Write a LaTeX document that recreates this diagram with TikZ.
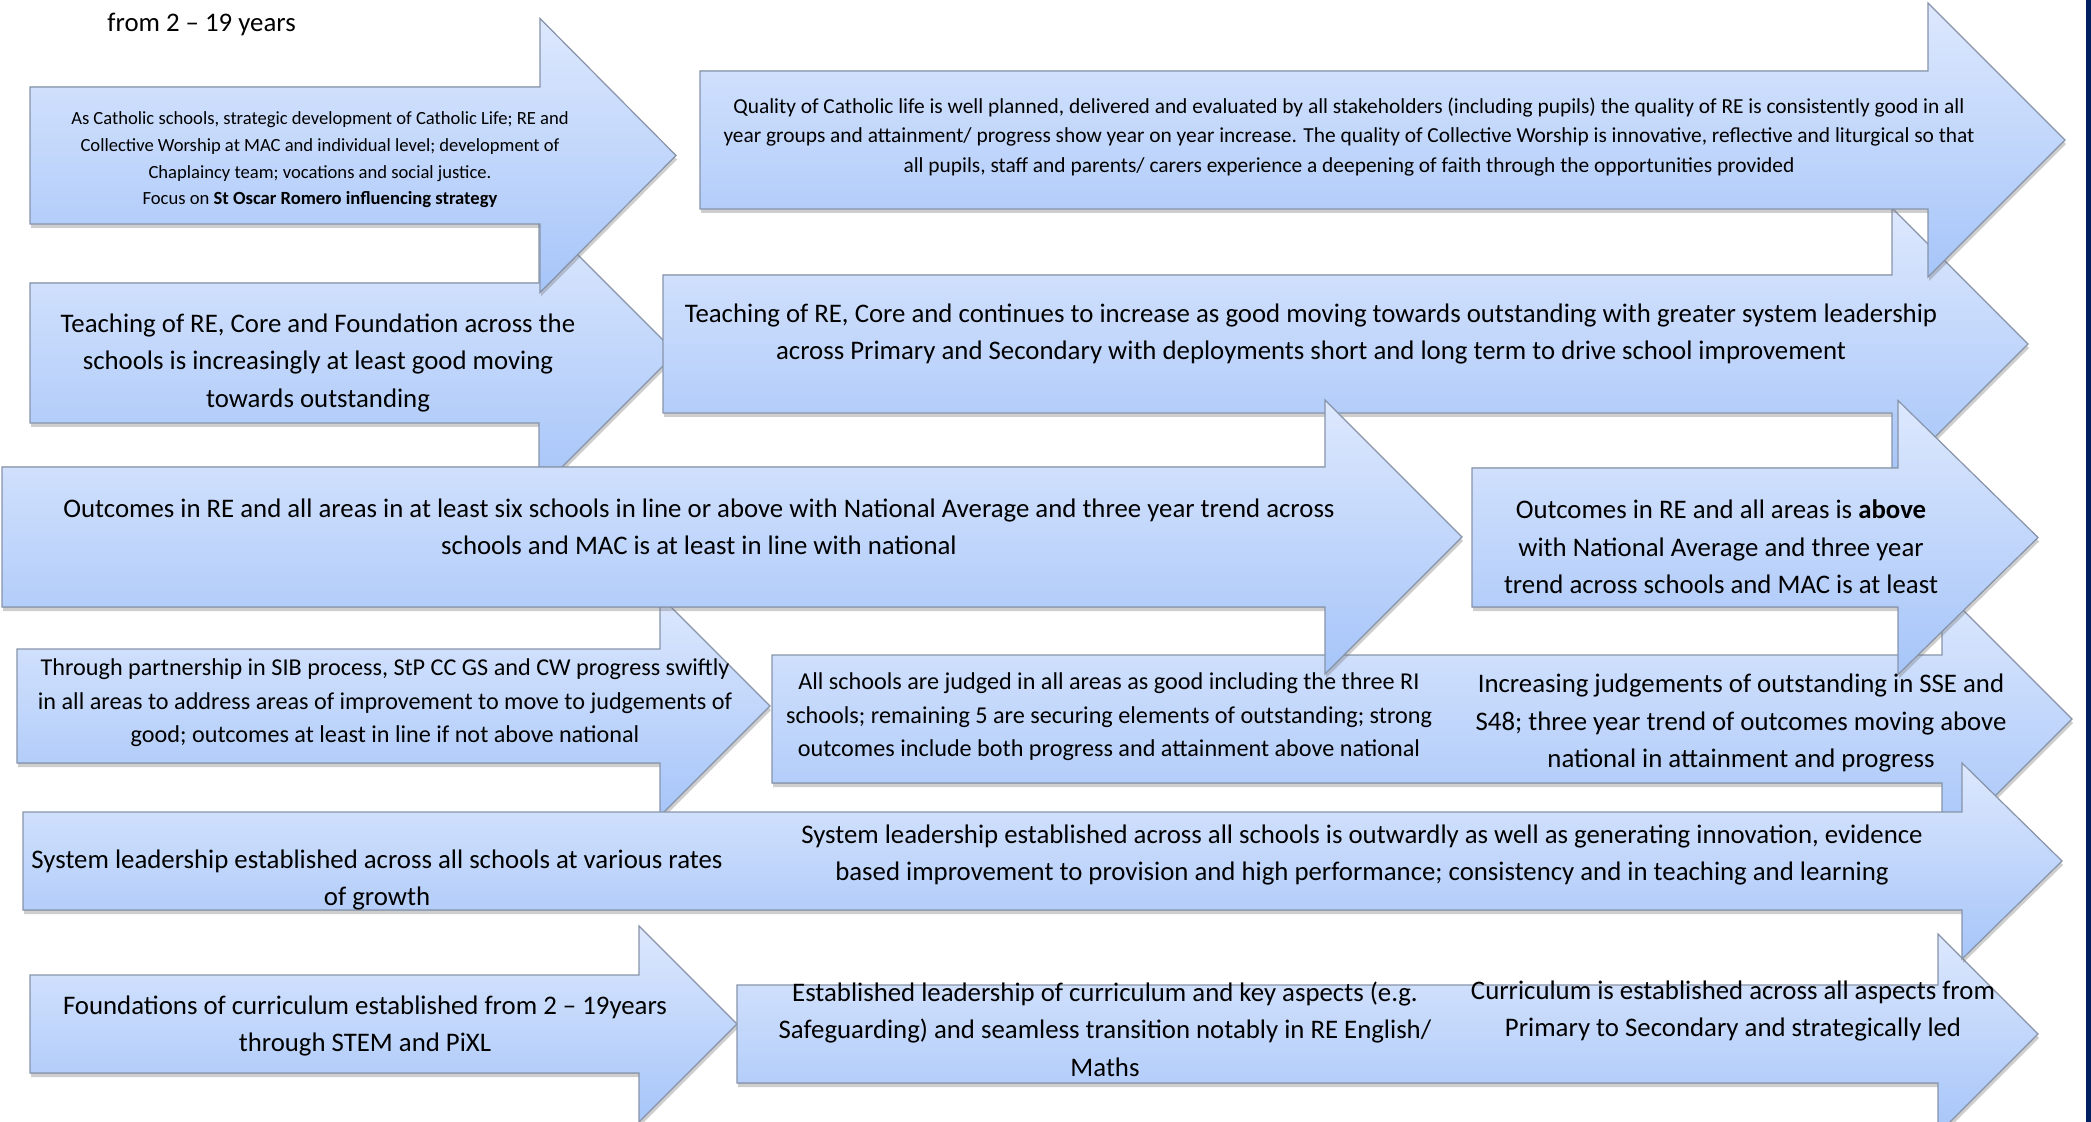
\documentclass[tikz,border=0pt]{standalone}
\usepackage{fontspec}
\setmainfont{Carlito}
\usepackage{tikz}
\usetikzlibrary{shadows}
\definecolor{arrowtop}{RGB}{221,232,253}
\definecolor{arrowbot}{RGB}{166,197,249}
\definecolor{arrowline}{RGB}{135,148,170}
\definecolor{edgenavy}{RGB}{0,32,96}

\begin{document}
\begin{tikzpicture}[x=0.5pt, y=-0.5pt,
	bigarrow/.style={top color=arrowtop, bottom color=arrowbot, draw=arrowline, line width=0.6pt,
		drop shadow={shadow xshift=0.5pt, shadow yshift=-2pt, opacity=0.35, fill=black!55}},
	txt/.style={align=center, inner sep=0pt, font=\fontsize{13.4}{18.7}\selectfont},
	midtxt/.style={align=center, inner sep=0pt, font=\fontsize{12.1}{16.7}\selectfont},
	quality/.style={align=center, inner sep=0pt, font=\fontsize{10.7}{14.7}\selectfont},
	smalltxt/.style={align=center, inner sep=0pt, font=\fontsize{9.3}{13.3}\selectfont}]
			\useasboundingbox (0,0) rectangle (2091,1122);
			% arrows, lower rows first so the heads above overlap them
			\foreach \lx/\ty/\by/\bx/\tx/\hh in {17/649/763/660/770/110, 772/655/783/1942/2072/130,
				30/283/423/539/676/137, 663/275/413/1892/2028/136,
				2/467/607/1325/1462/137, 1472/468/607/1898/2038/137,
				30/87/224/540/676/137, 700/71/209/1928/2065/137,
				30/975/1073/639/737/98, 737/985/1083/1938/2038/100,
				23/812/910/1962/2062/98}
			{
				\filldraw[bigarrow] (\lx,\ty) -- (\bx,\ty) -- (\bx,{(\ty+\by)/2-\hh})
					-- (\tx,{(\ty+\by)/2}) -- (\bx,{(\ty+\by)/2+\hh}) -- (\bx,\by) -- (\lx,\by) -- cycle;
			}
			\fill[edgenavy] (2086,0) rectangle (2091,1122);

			\node[txt, anchor=west] (years) at (107,24) {from 2 – 19 years};

			\node[smalltxt] (catholic) at (320,160) {As Catholic schools, strategic development of Catholic Life; RE and\\
				Collective Worship at MAC and individual level; development of\\
				Chaplaincy team; vocations and social justice.\\
				Focus on \textbf{St Oscar Romero influencing strategy}};
			\node[quality] (qualitylife) at (1349,137) {Quality of Catholic life is well planned, delivered and evaluated by all stakeholders (including pupils) the quality of RE is consistently good in all\\
				year groups and attainment/ progress show year on year increase. The quality of Collective Worship is innovative, reflective and liturgical so that\\
				all pupils, staff and parents/ carers experience a deepening of faith through the opportunities provided};

			\node[txt] (teachfound) at (318,363) {Teaching of RE, Core and Foundation across the\\
				schools is increasingly at least good moving\\
				towards outstanding};
			\node[txt] (teachlead) at (1311,334) {Teaching of RE, Core and continues to increase as good moving towards outstanding with greater system leadership\\
				across Primary and Secondary with deployments short and long term to drive school improvement};

			\node[txt] (outsix) at (699,527) {Outcomes in RE and all areas in at least six schools in line or above with National Average and three year trend across\\
				schools and MAC is at least in line with national};
			\node[txt] (outabove) at (1721,547) {Outcomes in RE and all areas is \textbf{above}\\
				with National Average and three year\\
				trend across schools and MAC is at least};

			\node[midtxt] (partner) at (385,703) {Through partnership in SIB process, StP CC GS and CW progress swiftly\\
				in all areas to address areas of improvement to move to judgements of\\
				good; outcomes at least in line if not above national};
			\node[midtxt] (judged) at (1109,717) {All schools are judged in all areas as good including the three RI\\
				schools; remaining 5 are securing elements of outstanding; strong\\
				outcomes include both progress and attainment above national};
			\node[txt] (sse) at (1741,723) {Increasing judgements of outstanding in SSE and\\
				S48; three year trend of outcomes moving above\\
				national in attainment and progress};

			\node[txt] (sysrates) at (377,880) {System leadership established across all schools at various rates\\
				of growth};
			\node[txt] (sysout) at (1362,855) {System leadership established across all schools is outwardly as well as generating innovation, evidence\\
				based improvement to provision and high performance; consistency and in teaching and learning};

			\node[txt] (curfound) at (365,1026) {Foundations of curriculum established from 2 – 19years\\
				through STEM and PiXL};
			\node[txt] (curlead) at (1105,1029) {Established leadership of curriculum and key aspects (e.g.\\
				Safeguarding) and seamless transition notably in RE English/\\
				Maths};
			\node[txt] (curall) at (1733,1011) {Curriculum is established across all aspects from\\
				Primary to Secondary and strategically led};
\end{tikzpicture}
\end{document}
